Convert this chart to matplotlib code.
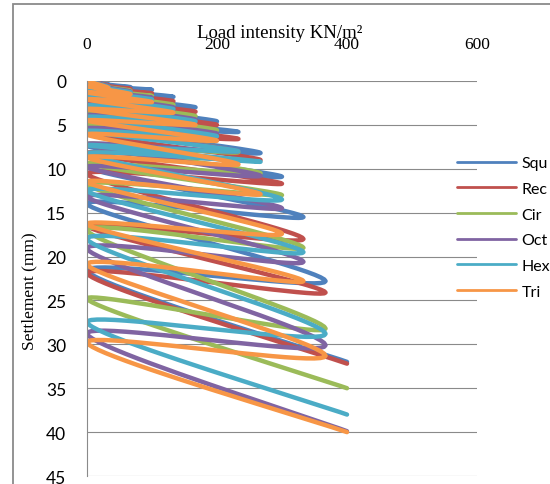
import numpy as np
import matplotlib
matplotlib.use("Agg")
import matplotlib.pyplot as plt
from matplotlib.patches import Rectangle

# load steps (KN/m2) and settlement (mm) at each peak, plus the settlement
# left after unloading back to zero at every step except the last
loads = [33, 67, 100, 133, 167, 200, 233, 267, 300, 333, 367, 400]

squ_peak = [0.4, 0.7, 1.0, 1.8, 3.0, 4.6, 5.8, 8.2, 10.9, 15.5, 22.8, 32.0]
rec_peak = [0.5, 0.9, 1.4, 2.3, 3.5, 5.0, 6.6, 9.0, 11.7, 18.0, 24.1, 32.2]
cir_peak = [0.6, 1.1, 1.7, 2.7, 4.0, 5.6, 8.1, 10.5, 13.0, 19.0, 28.2, 35.0]
oct_peak = [0.6, 1.2, 1.9, 3.0, 4.4, 6.0, 8.0, 10.8, 14.5, 20.6, 30.1, 39.9]
hex_peak = [0.7, 1.3, 2.1, 3.2, 4.6, 6.3, 8.0, 9.2, 13.5, 19.5, 28.8, 38.0]
tri_peak = [0.8, 1.5, 2.4, 3.6, 5.0, 6.8, 9.5, 12.9, 17.4, 22.8, 31.3, 40.0]

squ_reb = [0.2, 0.5, 0.8, 1.5, 2.6, 4.0, 5.2, 7.4, 9.8, 14.0, 21.6]
rec_reb = [0.3, 0.7, 1.1, 2.0, 3.1, 4.5, 6.0, 8.2, 10.6, 16.5, 21.9]
cir_reb = [0.4, 0.9, 1.4, 2.3, 3.5, 5.0, 7.2, 9.4, 11.8, 17.0, 24.8]
oct_reb = [0.4, 1.0, 1.6, 2.6, 3.9, 5.4, 7.2, 9.8, 13.2, 19.1, 28.8]
hex_reb = [0.5, 1.1, 1.8, 2.8, 4.1, 5.7, 7.3, 8.3, 12.5, 18.0, 27.5]
tri_reb = [0.6, 1.3, 2.1, 3.2, 4.5, 6.1, 8.7, 11.5, 16.3, 20.9, 29.8]

names = ["Squ", "Rec", "Cir", "Oct", "Hex", "Tri"]
peaks = [squ_peak, rec_peak, cir_peak, oct_peak, hex_peak, tri_peak]
rebounds = [squ_reb, rec_reb, cir_reb, oct_reb, hex_reb, tri_reb]
colors = ["#4F81BD", "#C0504D", "#9BBB59", "#8064A2", "#4BACC6", "#F79646"]


def cycle_path(peak, reb):
    xs, ys = [0], [0.0]
    for i, p in enumerate(loads):
        xs.append(p)
        ys.append(peak[i])
        if i < len(reb):
            xs.append(0)
            ys.append(reb[i])
    return np.array(xs, float), np.array(ys, float)


def smooth(xs, ys, sx, sy, n=24):
    # bezier smoothing like a spreadsheet "smoothed line", done in screen units
    P = np.column_stack([xs * sx, ys * sy])
    P = np.vstack([P[0], P, P[-1]])
    t = np.linspace(0, 1, n)[:, None]
    out = []
    for i in range(1, len(P) - 2):
        p0, p1, p2, p3 = P[i - 1], P[i], P[i + 1], P[i + 2]
        c1 = p1 + (p2 - p0) / 6
        c2 = p2 - (p3 - p1) / 6
        seg = ((1 - t) ** 3) * p1 + 3 * ((1 - t) ** 2) * t * c1 + 3 * (1 - t) * t ** 2 * c2 + t ** 3 * p2
        out.append(seg if i == 1 else seg[1:])
    out = np.vstack(out)
    return out[:, 0] / sx, out[:, 1] / sy


fig = plt.figure(figsize=(5.5, 4.85), dpi=100)
ax = fig.add_axes([87 / 550, 1 - 477 / 485, 390 / 550, 395 / 485])

sx = 390 / 600
sy = 395 / 45
for name, pk, rb, c in zip(names, peaks, rebounds, colors):
    x, y = cycle_path(pk, rb)
    xx, yy = smooth(x, y, sx, sy)
    ax.plot(xx, yy, color=c, lw=3.2, label=name, solid_capstyle="round")

ax.set_xlim(0, 600)
ax.set_ylim(45, 0)
ax.set_xticks([0, 200, 400, 600])
ax.set_yticks(range(0, 50, 5))
ax.xaxis.tick_top()
ax.tick_params(axis="x", length=0, pad=21, labelsize=12.5)
ax.tick_params(axis="y", length=0, pad=15, labelsize=12.5)
for lab in ax.get_xticklabels():
    lab.set_fontfamily("Liberation Serif")
for lab in ax.get_yticklabels():
    lab.set_fontfamily("Lato")

ax.grid(axis="y", color="#8a8a8a", lw=0.8)
ax.set_axisbelow(True)
for s in ["top", "right", "bottom"]:
    ax.spines[s].set_visible(False)
ax.spines["left"].set_color("#8a8a8a")
ax.spines["left"].set_linewidth(0.8)

ax.set_ylabel("Settlement (mm)", family="Liberation Serif", fontsize=12.5)
ax.yaxis.set_label_coords(-0.128, 0.47)
fig.text(280 / 550, 1 - 33 / 485, "Load intensity KN/m²", family="Liberation Serif",
         fontsize=13.5, ha="center", va="center")

leg = ax.legend(loc="upper left", bbox_to_anchor=(457 / 550, 1 - 157 / 485),
                bbox_transform=fig.transFigure, frameon=False,
                handlelength=3.7, handletextpad=0.35, labelspacing=0.72,
                borderpad=0, borderaxespad=0, prop={"family": "Lato", "size": 11.5})
for h in leg.get_lines():
    h.set_linewidth(2)

# outer chart border
fig.patches.append(Rectangle((13 / 550, -0.2), 2, 1.2 - 5 / 485, transform=fig.transFigure,
                             fill=False, ec="#8a8a8a", lw=1.3))

fig.savefig("out.png", dpi=100)
